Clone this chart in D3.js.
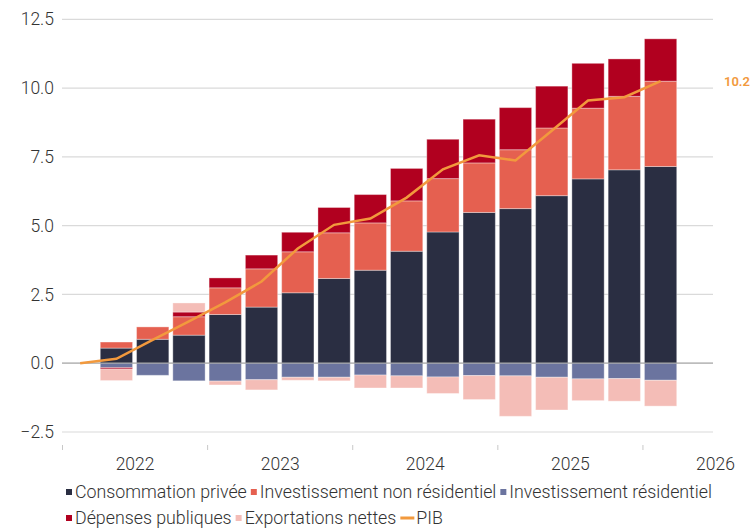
<!DOCTYPE html>
<html>
<head>
<meta charset="utf-8">
<script src="https://cdn.jsdelivr.net/npm/d3@7"></script>
<style>
  body { margin: 0; background: #fff; }
  text { font-family: Roboto, 'Noto Sans', sans-serif; font-weight: 300; fill: #333; }
</style>
</head>
<body>
<svg id="canvas" width="751" height="529"></svg>
<script>
// quarter 0 is the starting point of the GDP line, bars start at quarter 1
let quarters = ['2021T3', '2021T4', '2022T1', '2022T2', '2022T3', '2022T4', '2023T1', '2023T2', '2023T3',
                '2023T4', '2024T1', '2024T2', '2024T3', '2024T4', '2025T1', '2025T2', '2025T3'];

let consommation = [0.55, 0.87, 1.02, 1.77, 2.04, 2.56, 3.08, 3.38, 4.07, 4.77, 5.48, 5.62, 6.09, 6.70, 7.03, 7.15];
let investNonRes = [0.22, 0.45, 0.67, 0.97, 1.39, 1.49, 1.66, 1.72, 1.83, 1.94, 1.80, 2.14, 2.46, 2.57, 2.67, 3.10];
let investRes = [-0.16, -0.44, -0.64, -0.65, -0.60, -0.51, -0.51, -0.43, -0.46, -0.50, -0.45, -0.46, -0.51, -0.57, -0.56, -0.62];
let depenses = [-0.05, 0.00, 0.17, 0.36, 0.50, 0.71, 0.92, 1.03, 1.18, 1.43, 1.59, 1.53, 1.52, 1.63, 1.36, 1.54];
let exportations = [-0.42, 0.00, 0.33, -0.14, -0.37, -0.11, -0.13, -0.47, -0.44, -0.60, -0.87, -1.47, -1.19, -0.79, -0.82, -0.94];
let pib = [0, 0.16, 0.85, 1.52, 2.21, 2.97, 4.17, 5.03, 5.26, 6.02, 7.05, 7.56, 7.37, 8.45, 9.55, 9.67, 10.25];

let yTicks = [-2.5, 0, 2.5, 5, 7.5, 10, 12.5];
let years = ['2022', '2023', '2024', '2025', '2026'];

let seriesNames = ['Consommation privée', 'Investissement non résidentiel', 'Investissement résidentiel',
                   'Dépenses publiques', 'Exportations nettes'];
let seriesColors = ['#2a2e42', '#e56050', '#6b749f', '#b1001f', '#f4bdb7'];
let pibColor = '#f2993d';

let canvas = d3.select('#canvas');

// table for d3.stack, one row per bar
let rows = consommation.map((v, i) => ({
    q: i + 1,
    'Consommation privée': v,
    'Investissement non résidentiel': investNonRes[i],
    'Investissement résidentiel': investRes[i],
    'Dépenses publiques': depenses[i],
    'Exportations nettes': exportations[i]
}));

let x = d3.scaleLinear().domain([-0.5, 17.5]).range([62, 715]);
let y = d3.scaleLinear().domain([-2.5, 12.5]).range([432, 19.3]);
let barW = (x(1) - x(0)) * 0.89;

// gridlines
canvas.append('g')
    .selectAll('line')
    .data(yTicks)
    .enter()
    .append('line')
    .attr('x1', x(-0.5))
    .attr('x2', 713)
    .attr('y1', d => y(d))
    .attr('y2', d => y(d))
    .attr('stroke', '#dadada')
    .attr('stroke-width', 1.2);

// y labels
let yAxis = canvas.append('g')
    .attr('transform', 'translate(54,0)')
    .call(d3.axisLeft(y).tickValues(yTicks).tickFormat(d3.format('.1f')).tickSize(0).tickPadding(0));
yAxis.select('.domain').remove();
yAxis.selectAll('text').style('font-size', '17.5px').attr('fill', '#333');

// x ticks and year labels
let xTicks = canvas.append('g')
    .attr('transform', 'translate(0,445)')
    .call(d3.axisBottom(x).tickValues([-0.5, 3.5, 7.5, 11.5, 15.5]).tickFormat('').tickSize(5));
xTicks.select('.domain').remove();
xTicks.selectAll('line').attr('stroke', '#c8c8c8');

let xLabels = canvas.append('g')
    .attr('transform', 'translate(0,455)')
    .call(d3.axisBottom(x).tickValues([1.5, 5.5, 9.5, 13.5, 17.5]).tickFormat((d, i) => years[i]).tickSize(0));
xLabels.select('.domain').remove();
xLabels.selectAll('text').style('font-size', '17.5px').attr('fill', '#333');

// stacked bars
let stacked = d3.stack().keys(seriesNames).offset(d3.stackOffsetDiverging)(rows);

canvas.append('g')
    .selectAll('g')
    .data(stacked)
    .enter()
    .append('g')
    .attr('fill', (d, i) => seriesColors[i])
    .selectAll('rect')
    .data(d => d)
    .enter()
    .append('rect')
    .attr('x', d => x(d.data.q) - barW / 2)
    .attr('width', barW)
    .attr('y', d => y(Math.max(d[0], d[1])))
    .attr('height', d => Math.abs(y(d[0]) - y(d[1])))
    .attr('stroke', '#fff')
    .attr('stroke-opacity', 0.35)
    .attr('stroke-width', 1);

// zero line over the bars
canvas.append('line')
    .attr('x1', x(-0.5))
    .attr('x2', 713)
    .attr('y1', y(0))
    .attr('y2', y(0))
    .attr('stroke', '#999')
    .attr('stroke-opacity', 0.7)
    .attr('stroke-width', 1.2);

// GDP line
canvas.append('path')
    .datum(pib)
    .attr('fill', 'none')
    .attr('stroke', pibColor)
    .attr('stroke-width', 2.5)
    .attr('d', d3.line().x((d, i) => x(i)).y(d => y(d)));

canvas.append('text')
    .attr('x', 724)
    .attr('y', y(pib[pib.length - 1]))
    .attr('dy', '0.35em')
    .style('font-size', '13px')
    .style('font-weight', 600)
    .style('fill', pibColor)
    .text(d3.format('.1f')(Math.floor(pib[pib.length - 1] * 10) / 10));

// legend, two rows laid out from measured text widths
let legendRows = [
    [0, 1, 2],
    [3, 4, 'pib']
];
legendRows.forEach((row, r) => {
    let cx = 66;
    let cy = 492 + r * 26;
    row.forEach(k => {
        let name = k === 'pib' ? 'PIB' : seriesNames[k];
        if(k === 'pib'){
            canvas.append('rect')
                .attr('x', cx).attr('y', cy - 1.5)
                .attr('width', 14).attr('height', 3)
                .attr('fill', pibColor);
            cx += 16;
        }else{
            canvas.append('rect')
                .attr('x', cx).attr('y', cy - 3)
                .attr('width', 6).attr('height', 6)
                .attr('fill', seriesColors[k]);
            cx += 9;
        }
        let t = canvas.append('text')
            .attr('x', cx)
            .attr('y', cy)
            .attr('dy', '0.35em')
            .style('font-size', '17.8px')
            .text(name);
        cx += t.node().getComputedTextLength() + 4;
    });
});
</script>
</body>
</html>
